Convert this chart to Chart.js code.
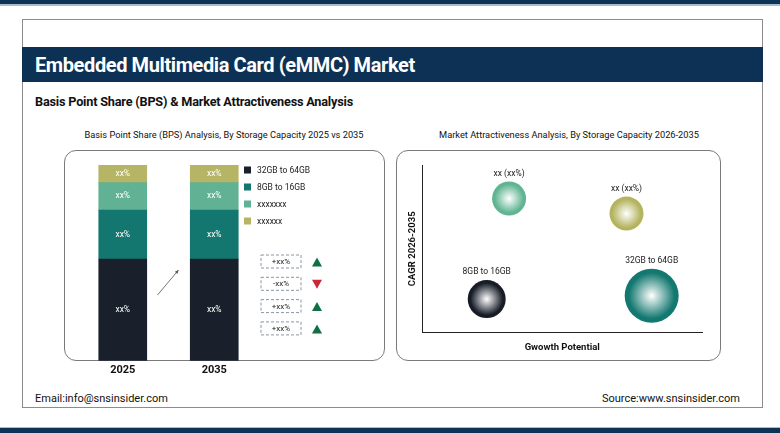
<!DOCTYPE html>
<html>
<head>
<meta charset="utf-8">
<script src="https://cdn.jsdelivr.net/npm/chart.js@4.4.1/dist/chart.umd.min.js"></script>
<style>
  body { margin: 0; width: 780px; height: 433px; position: relative; background: #fff; font-family: Roboto, sans-serif; overflow: hidden; }
  .topbar { position: absolute; left: 0; top: 0; width: 780px; height: 4px; background: #0d3356; border-bottom: 2px solid #a9bccd; }
  .botbar { position: absolute; left: 0; top: 427px; width: 780px; height: 6px; background: #0d3356; border-top: 1px solid #a9bccd; }
  .card { position: absolute; left: 22px; top: 19px; width: 739px; height: 387px; border: 1px solid #8c8c8c; }
  .band { position: absolute; left: 22px; top: 47px; width: 741px; height: 35px; background: #0c3154; }
  .band h1 { margin: 0; position: absolute; left: 13px; top: 6px; color: #fff; font-size: 20px; font-weight: 700; letter-spacing: -0.4px; }
  .sub { position: absolute; left: 35px; top: 94px; font-size: 12.7px; font-weight: 700; color: #111; letter-spacing: -0.2px; }
  .ctitle { position: absolute; top: 129px; font-size: 9.25px; color: #111; text-align: center; }
  .panel { position: absolute; top: 150px; height: 209px; border: 1px solid #7a7a7a; border-radius: 12px; }
  .foot { position: absolute; top: 392px; font-size: 11px; color: #111; }
  canvas { position: absolute; }
</style>
</head>
<body>
<div class="topbar"></div>
<div class="card"></div>
<div class="band"><h1>Embedded Multimedia Card (eMMC) Market</h1></div>
<div class="sub">Basis Point Share (BPS) &amp; Market Attractiveness Analysis</div>
<div class="ctitle" style="left:64px;width:320px;">Basis Point Share (BPS) Analysis, By Storage Capacity 2025 vs 2035</div>
<div class="ctitle" style="left:409px;width:320px;">Market Attractiveness Analysis, By Storage Capacity 2026-2035</div>
<div class="panel" style="left:64px;width:319px;"></div>
<div class="panel" style="left:396px;width:323px;"></div>
<div style="position:absolute;left:64px;top:158px;width:320px;height:226px;"><canvas id="barChart"></canvas></div>
<div style="position:absolute;left:396px;top:150px;width:324px;height:210px;"><canvas id="bubbleChart"></canvas></div>
<div class="foot" style="left:35px;">Email:info@snsinsider.com</div>
<div class="foot" style="right:40px;">Source:www.snsinsider.com</div>
<div class="botbar"></div>

<script>
// Datos del gráfico de barras apiladas
const years = ["2025", "2035"];
const segmentNames = ["32GB to 64GB", "8GB to 16GB", "xxxxxxx", "xxxxxx"];
const segmentColors = ["#19202b", "#13776f", "#61b194", "#b6b566"];
const share32to64 = [52, 52];
const share8to16 = [25, 25];
const shareOther1 = [14, 14];
const shareOther2 = [9, 9];
const segmentText = "xx%";

// Cambios mostrados junto a la leyenda
const changeLabels = ["+xx%", "-xx%", "+xx%", "+xx%"];
const changeUp = [true, false, true, true];

// Datos del gráfico de burbujas
const bubbleNames = ["xx (xx%)", "xx (xx%)", "8GB to 16GB", "32GB to 64GB"];
const bubbleColors = ["#5fb492", "#b4b35f", "#171c27", "#137870"];
const growthPotential = [3.1, 7.3, 2.3, 8.2];
const cagrValues = [8.0, 7.1, 2.0, 2.2];
const bubbleSizes = [17, 17, 19, 27];

// Plugin: texto dentro de cada segmento, leyenda, cajas de cambio y flecha
const barExtras = {
  id: "barExtras",
  afterDatasetsDraw(chart) {
    const ctx = chart.ctx;
    ctx.save();
    ctx.font = "8.5px Roboto, sans-serif";
    ctx.fillStyle = "#ffffff";
    ctx.textAlign = "center";
    ctx.textBaseline = "middle";
    chart.data.datasets.forEach((ds, i) => {
      chart.getDatasetMeta(i).data.forEach(bar => {
        ctx.fillText(segmentText, bar.x, (bar.y + bar.base) / 2);
      });
    });

    // Leyenda
    const lx = chart.chartArea.right - 16;
    ctx.textAlign = "left";
    ctx.font = "8.5px Roboto, sans-serif";
    segmentNames.forEach((name, i) => {
      const y = 12 + i * 17;
      ctx.fillStyle = segmentColors[i];
      ctx.fillRect(lx, y - 3.5, 7, 7);
      ctx.fillStyle = "#222";
      ctx.fillText(name, lx + 13, y + 0.5);
    });

    // Cajas de cambio con triángulos
    changeLabels.forEach((txt, i) => {
      const top = 97 + i * 22.3;
      const bx = lx + 17;
      ctx.setLineDash([3, 2]);
      ctx.strokeStyle = "#8a96a3";
      ctx.lineWidth = 1;
      ctx.strokeRect(bx, top, 40, 13);
      ctx.setLineDash([]);
      ctx.fillStyle = "#222";
      ctx.textAlign = "center";
      ctx.font = "8px Roboto, sans-serif";
      ctx.fillText(txt, bx + 20, top + 7);
      const tx = bx + 56, ty = top + 7;
      ctx.beginPath();
      if (changeUp[i]) {
        ctx.fillStyle = "#0f7043";
        ctx.moveTo(tx - 5, ty + 4.5); ctx.lineTo(tx + 5, ty + 4.5); ctx.lineTo(tx, ty - 4.5);
      } else {
        ctx.fillStyle = "#c9283a";
        ctx.moveTo(tx - 5, ty - 4.5); ctx.lineTo(tx + 5, ty - 4.5); ctx.lineTo(tx, ty + 4.5);
      }
      ctx.closePath();
      ctx.fill();
    });

    // Flecha entre las barras
    const m0 = chart.getDatasetMeta(0).data;
    const midX = (m0[0].x + m0[1].x) / 2;
    const x1 = midX - 11, y1 = 137, x2 = midX + 10, y2 = 112;
    ctx.strokeStyle = "#555";
    ctx.lineWidth = 0.8;
    ctx.beginPath(); ctx.moveTo(x1, y1); ctx.lineTo(x2, y2); ctx.stroke();
    const ang = Math.atan2(y2 - y1, x2 - x1);
    ctx.fillStyle = "#555";
    ctx.beginPath();
    ctx.moveTo(x2, y2);
    ctx.lineTo(x2 - 4 * Math.cos(ang - 0.45), y2 - 4 * Math.sin(ang - 0.45));
    ctx.lineTo(x2 - 4 * Math.cos(ang + 0.45), y2 - 4 * Math.sin(ang + 0.45));
    ctx.closePath(); ctx.fill();
    ctx.restore();
  }
};

new Chart(document.getElementById("barChart"), {
  type: "bar",
  data: {
    labels: years,
    datasets: [
      { label: segmentNames[0], data: share32to64, backgroundColor: segmentColors[0] },
      { label: segmentNames[1], data: share8to16, backgroundColor: segmentColors[1] },
      { label: segmentNames[2], data: shareOther1, backgroundColor: segmentColors[2] },
      { label: segmentNames[3], data: shareOther2, backgroundColor: segmentColors[3] }
    ]
  },
  options: {
    responsive: true,
    maintainAspectRatio: false,
    animation: false,
    datasets: { bar: { barThickness: 48 } },
    layout: { padding: { left: 13, right: 124, top: 7, bottom: 4 } },
    scales: {
      x: {
        stacked: true,
        grid: { display: false, drawTicks: false },
        border: { display: false },
        ticks: { color: "#111", padding: 3, font: { family: "Roboto", size: 11, weight: "bold" } }
      },
      y: { stacked: true, display: false, min: 0, max: 100 }
    },
    plugins: { legend: { display: false }, tooltip: { enabled: false } }
  },
  plugins: [barExtras]
});

// Plugin: nombre de cada burbuja encima de ella
const bubbleLabels = {
  id: "bubbleLabels",
  afterDatasetsDraw(chart) {
    const ctx = chart.ctx;
    ctx.save();
    ctx.font = "8.5px Roboto, sans-serif";
    ctx.fillStyle = "#222";
    ctx.textAlign = "center";
    ctx.textBaseline = "middle";
    chart.getDatasetMeta(0).data.forEach((pt, i) => {
      ctx.fillText(bubbleNames[i], pt.x, pt.y - bubbleSizes[i] - 8);
    });
    ctx.restore();
  }
};

new Chart(document.getElementById("bubbleChart"), {
  type: "bubble",
  data: {
    datasets: [{
      data: growthPotential.map((g, i) => ({ x: g, y: cagrValues[i], r: bubbleSizes[i] })),
      borderWidth: 0,
      backgroundColor: function(c) {
        const chart = c.chart;
        if (c.type !== "data" || !chart.chartArea) return bubbleColors[c.dataIndex];
        const p = c.raw;
        const x = chart.scales.x.getPixelForValue(p.x);
        const y = chart.scales.y.getPixelForValue(p.y);
        const g = chart.ctx.createRadialGradient(x, y, 0, x, y, p.r);
        g.addColorStop(0, "#ffffff");
        g.addColorStop(0.85, bubbleColors[c.dataIndex]);
        g.addColorStop(1, bubbleColors[c.dataIndex]);
        return g;
      }
    }]
  },
  options: {
    responsive: true,
    maintainAspectRatio: false,
    animation: false,
    layout: { autoPadding: false, padding: { left: 7, right: 18, top: 15, bottom: 8 } },
    scales: {
      x: {
        min: 0, max: 10,
        grid: { display: false, drawTicks: false },
        ticks: { display: false },
        border: { display: true, color: "#222", width: 1 },
        title: { display: true, text: "Gwowth Potential", color: "#111", padding: { top: 9, bottom: -1 }, font: { family: "Roboto", size: 9.5, weight: "bold" } }
      },
      y: {
        min: 0, max: 10,
        grid: { display: false, drawTicks: false },
        ticks: { display: false },
        border: { display: true, color: "#222", width: 1 },
        title: { display: true, text: "CAGR 2026-2035", color: "#111", padding: { top: 4, bottom: 4 }, font: { family: "Roboto", size: 9.5, weight: "bold" } }
      }
    },
    plugins: { legend: { display: false }, tooltip: { enabled: false } }
  },
  plugins: [bubbleLabels]
});
</script>
</body>
</html>
